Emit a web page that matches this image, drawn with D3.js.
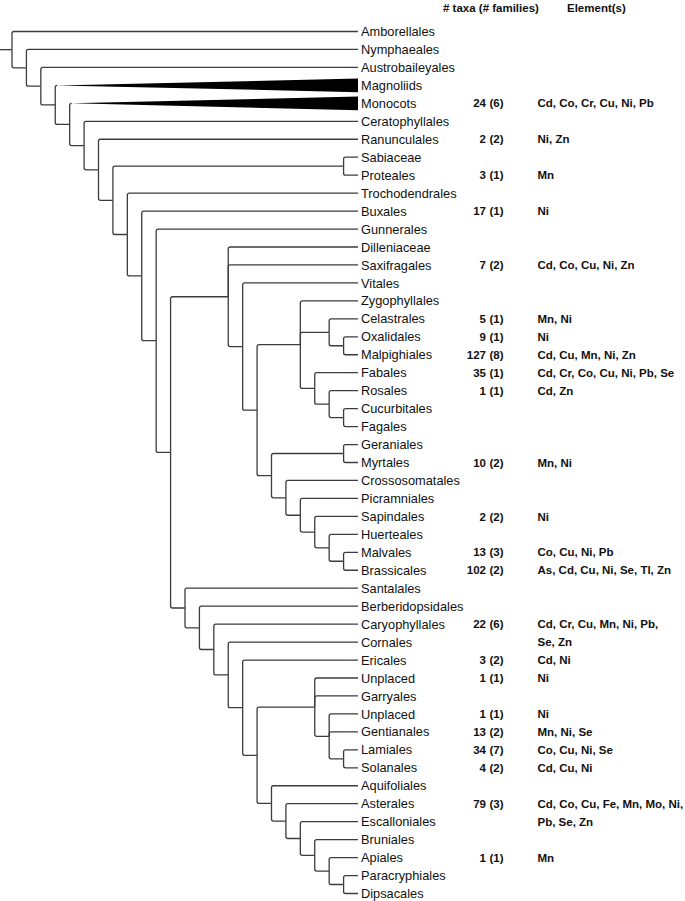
<!DOCTYPE html>
<html>
<head>
<meta charset="utf-8">
<script src="https://cdn.jsdelivr.net/npm/d3@7"></script>
<style>
  html, body { margin: 0; padding: 0; background: #fff; }
  svg { display: block; }
</style>
</head>
<body>
<svg id="chart" width="685" height="901"></svg>
<script>
// ---------------- DATA ----------------
// Tree topology (angiosperm orders, APG-style)
const newick = "(Amborellales,(Nymphaeales,(Austrobaileyales,(Magnoliids,(Monocots,(Ceratophyllales,(Ranunculales,((Sabiaceae,Proteales),(Trochodendrales,(Buxales,(Gunnerales,((Dilleniaceae,Saxifragales,(Vitales,((Zygophyllales,(Celastrales,(Oxalidales,Malpighiales)),(Fabales,(Rosales,(Cucurbitales,Fagales)))),((Geraniales,Myrtales),(Crossosomatales,(Picramniales,(Sapindales,(Huerteales,(Malvales,Brassicales))))))))),(Santalales,(Berberidopsidales,(Caryophyllales,(Cornales,(Ericales,((Unplaced,Garryales,(Unplaced,Gentianales,(Lamiales,Solanales))),(Aquifoliales,(Asterales,(Escalloniales,(Bruniales,(Apiales,(Paracryphiales,Dipsacales))))))))))))))))))))))";
const collapsedClades = ["Magnoliids", "Monocots"];

// Annotated orders (in tree order), with counts and elements
const annOrders = ["Monocots","Ranunculales","Proteales","Buxales","Saxifragales","Celastrales","Oxalidales","Malpighiales","Fabales","Rosales","Myrtales","Sapindales","Malvales","Brassicales","Caryophyllales","Ericales","Unplaced","Unplaced","Gentianales","Lamiales","Solanales","Asterales","Apiales"];
const taxaCounts = [24,2,3,17,7,5,9,127,35,1,10,2,13,102,22,3,1,1,13,34,4,79,1];
const familyCounts = [6,2,1,1,2,1,1,8,1,1,2,2,3,2,6,2,1,1,2,7,2,3,1];
const elements = [
  ["Cd, Co, Cr, Cu, Ni, Pb"],
  ["Ni, Zn"],
  ["Mn"],
  ["Ni"],
  ["Cd, Co, Cu, Ni, Zn"],
  ["Mn, Ni"],
  ["Ni"],
  ["Cd, Cu, Mn, Ni, Zn"],
  ["Cd, Cr, Co, Cu, Ni, Pb, Se"],
  ["Cd, Zn"],
  ["Mn, Ni"],
  ["Ni"],
  ["Co, Cu, Ni, Pb"],
  ["As, Cd, Cu, Ni, Se, Tl, Zn"],
  ["Cd, Cr, Cu, Mn, Ni, Pb,", "Se, Zn"],
  ["Cd, Ni"],
  ["Ni"],
  ["Ni"],
  ["Mn, Ni, Se"],
  ["Co, Cu, Ni, Se"],
  ["Cd, Cu, Ni"],
  ["Cd, Co, Cu, Fe, Mn, Mo, Ni,", "Pb, Se, Zn"],
  ["Mn"]
];
const headers = ["# taxa (# families)", "Element(s)"];

// ---------------- PARSE ----------------
function parseNewick(s) {
  let i = 0;
  function node() {
    if (s[i] === "(") {
      i++;
      const children = [node()];
      while (s[i] === ",") { i++; children.push(node()); }
      i++; // ')'
      return { children };
    }
    let name = "";
    while (i < s.length && !",()".includes(s[i])) name += s[i++];
    return { name };
  }
  return node();
}

const root = d3.hierarchy(parseNewick(newick));
const leaves = root.leaves();

// ---------------- SCALES ----------------
const y = d3.scaleLinear().domain([0, leaves.length - 1]).range([31.5, 893.5]);
const x = d3.scaleLinear().domain([root.height, 0]).range([12, 358]);
const rowStep = y(1) - y(0);

leaves.forEach((d, i) => { d.yPos = y(i); });
root.eachAfter(d => {
  d.xPos = x(d.height);
  if (d.children) {
    d.yPos = (d.children[0].yPos + d.children[d.children.length - 1].yPos) / 2;
  }
});

// ---------------- DRAW ----------------
const svg = d3.select("#chart");
const gTree = svg.append("g");
const lineColor = "#3c3c3c";
const r = 2;

// root stub
gTree.append("line")
  .attr("x1", 0).attr("x2", root.xPos)
  .attr("y1", root.yPos).attr("y2", root.yPos)
  .attr("stroke", lineColor).attr("stroke-width", 1.3);

function linkPath(p, c) {
  const dy = c.yPos - p.yPos;
  if (Math.abs(dy) < 0.5) return `M${p.xPos},${p.yPos}H${c.xPos}`;
  const s = dy > 0 ? 1 : -1;
  return `M${p.xPos},${p.yPos}V${c.yPos - s * r}Q${p.xPos},${c.yPos} ${p.xPos + r},${c.yPos}H${c.xPos}`;
}

root.links().forEach(l => {
  const isCollapsed = !l.target.children && collapsedClades.includes(l.target.data.name);
  if (isCollapsed) {
    const p = l.source, c = l.target;
    const dy = c.yPos - p.yPos;
    const s = dy > 0 ? 1 : -1;
    gTree.append("path")
      .attr("d", `M${p.xPos},${p.yPos}V${c.yPos - s * r}Q${p.xPos},${c.yPos} ${p.xPos + r},${c.yPos}`)
      .attr("fill", "none").attr("stroke", lineColor).attr("stroke-width", 1.3);
    gTree.append("path")
      .attr("d", `M${p.xPos + r},${c.yPos}L${c.xPos},${c.yPos - 6.8}L${c.xPos},${c.yPos + 6.8}Z`)
      .attr("fill", "#000");
  } else {
    gTree.append("path")
      .attr("d", linkPath(l.source, l.target))
      .attr("fill", "none")
      .attr("stroke", lineColor)
      .attr("stroke-width", 1.3);
  }
});

// leaf labels
const labelFont = "'Liberation Sans', Arial, Helvetica, sans-serif";
svg.append("g").selectAll("text")
  .data(leaves)
  .join("text")
  .attr("x", d => d.xPos + 3)
  .attr("y", d => d.yPos)
  .attr("dy", "0.36em")
  .attr("font-family", labelFont)
  .attr("font-size", "12.8px")
  .attr("fill", "#111")
  .text(d => d.data.name);

// headers
const boldSize = "11.5px";
svg.append("text")
  .attr("x", 443).attr("y", 12)
  .attr("font-family", labelFont).attr("font-size", boldSize).attr("font-weight", "bold")
  .attr("fill", "#111")
  .text(headers[0]);
svg.append("text")
  .attr("x", 567).attr("y", 12)
  .attr("font-family", labelFont).attr("font-size", boldSize).attr("font-weight", "bold")
  .attr("fill", "#111")
  .text(headers[1]);

// annotations: match in tree order
let k = 0;
const annRows = [];
leaves.forEach(d => {
  if (k < annOrders.length && d.data.name === annOrders[k]) {
    annRows.push({ y: d.yPos, taxa: taxaCounts[k], fam: familyCounts[k], el: elements[k] });
    k++;
  }
});

const gAnn = svg.append("g")
  .attr("font-family", labelFont)
  .attr("font-size", boldSize)
  .attr("font-weight", "bold")
  .attr("fill", "#111");

annRows.forEach(a => {
  gAnn.append("text")
    .attr("x", 486).attr("y", a.y).attr("dy", "0.36em")
    .attr("text-anchor", "end")
    .text(a.taxa);
  gAnn.append("text")
    .attr("x", 489.5).attr("y", a.y).attr("dy", "0.36em")
    .text(`(${a.fam})`);
  a.el.forEach((line, li) => {
    gAnn.append("text")
      .attr("x", 537.5).attr("y", a.y + li * rowStep).attr("dy", "0.36em")
      .text(line);
  });
});
</script>
</body>
</html>
